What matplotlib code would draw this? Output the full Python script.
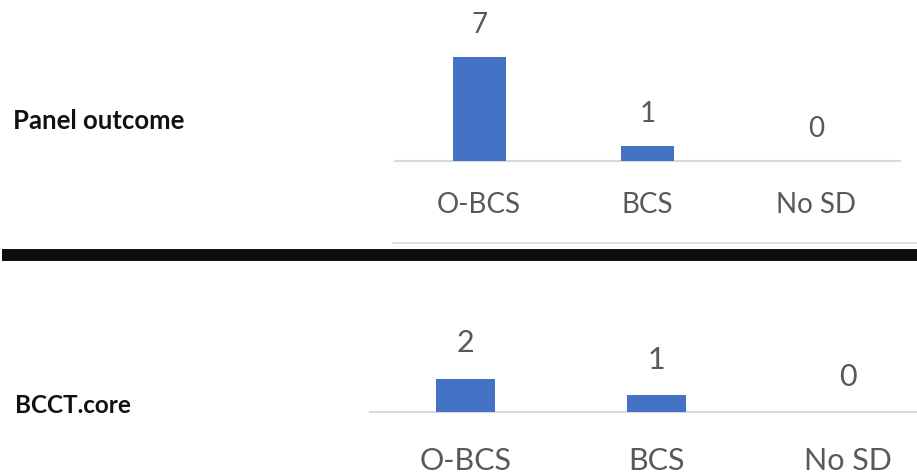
import matplotlib
matplotlib.use("Agg")
import matplotlib.pyplot as plt
from matplotlib.lines import Line2D

# Data
categories = ["O-BCS", "BCS", "No SD"]
panel_outcome = [7, 1, 0]
bcct_core = [2, 1, 0]
row_titles = ["Panel outcome", "BCCT.core"]

BAR = "#4472C4"
TXT = "#595959"
GRID = "#D9D9D9"

W, H = 917, 476
fig = plt.figure(figsize=(W / 100, H / 100), dpi=100)
fig.patch.set_facecolor("white")


def px_axes(left, right, top, bottom):
    return fig.add_axes([left / W, 1 - bottom / H, (right - left) / W, (bottom - top) / H])


def draw_panel(ax, values, px_per_unit, height_px, fs, val_pad, tick_pad, bar_w):
    x = range(len(categories))
    bars = ax.bar(x, values, width=bar_w, color=BAR, zorder=3)
    ax.set_xlim(-0.5, len(categories) - 0.5)
    ax.set_ylim(0, height_px / px_per_unit)
    for s in ("top", "left", "right"):
        ax.spines[s].set_visible(False)
    ax.spines["bottom"].set_color(GRID)
    ax.spines["bottom"].set_linewidth(1.5)
    ax.spines["bottom"].set_zorder(2)
    ax.set_yticks([])
    ax.set_xticks(list(x))
    ax.set_xticklabels(categories, fontsize=fs, color=TXT, family="Lato")
    for lab in ax.get_xticklabels():
        lab.set_va("baseline")
    ax.tick_params(axis="x", length=0, pad=tick_pad)
    for b, v in zip(bars, values):
        ax.annotate(str(v), (b.get_x() + b.get_width() / 2, v),
                    xytext=(0, val_pad), textcoords="offset points",
                    ha="center", va="baseline", fontsize=fs, color=TXT,
                    family="Lato", annotation_clip=False)
    ax.patch.set_alpha(0)


# Upper panel
ax1 = px_axes(395, 900, 0, 160.7)
draw_panel(ax1, panel_outcome, 14.8, 160.7, 20, 17.3, 37.4, 0.315)

# Lower panel
ax2 = px_axes(370, 943, 300, 412)
draw_panel(ax2, bcct_core, 16.7, 112, 22, 19, 41.5, 0.31)

# Row titles
fig.text(13 / W, 1 - 129 / H, row_titles[0], fontsize=18.5, fontweight="bold",
         family="Lato", color="#111111", va="baseline", ha="left")
fig.text(15 / W, 1 - 413 / H, row_titles[1], fontsize=17.5, fontweight="bold",
         family="Lato", color="#111111", va="baseline", ha="left")

# Separator lines
fig.add_artist(Line2D([393 / W, 1.0], [1 - 243 / H, 1 - 243 / H],
                      transform=fig.transFigure, color=GRID, linewidth=1.2))
fig.add_artist(Line2D([2 / W, 1.0], [1 - 255 / H, 1 - 255 / H],
                      transform=fig.transFigure, color="#0d0d0d", linewidth=8.6,
                      solid_capstyle="butt"))

fig.savefig("out.png", dpi=100, facecolor="white")
